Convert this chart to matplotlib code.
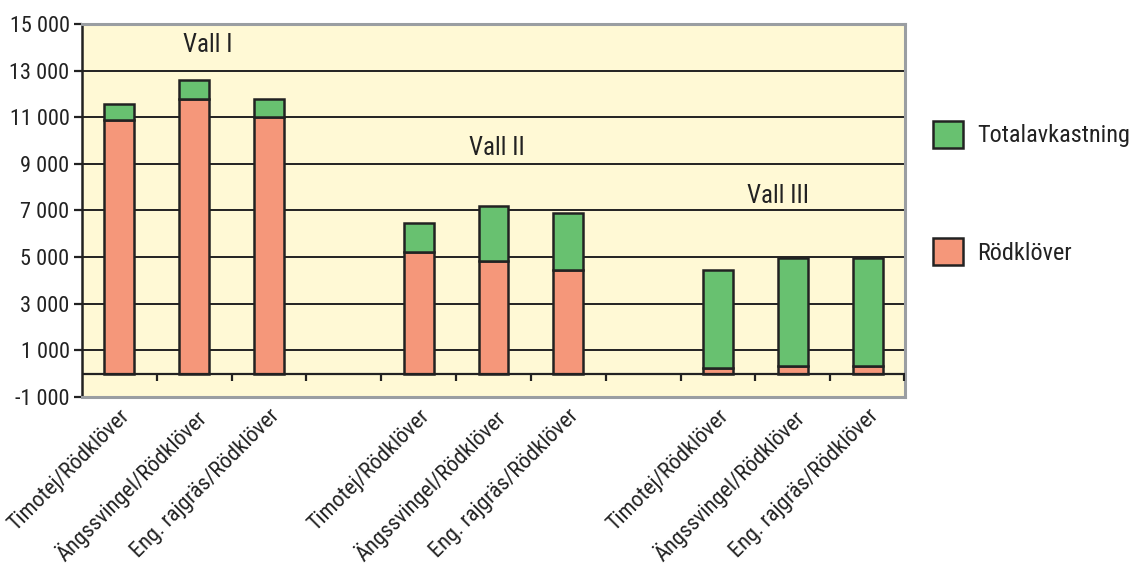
import matplotlib
matplotlib.use("Agg")
import matplotlib.pyplot as plt
from matplotlib.patches import Patch
import numpy as np

# Yield per mixture and ley year (kg ts/ha)
groups = ["Vall I", "Vall II", "Vall III"]
mixtures = ["Timotej/Rödklöver", "Ängssvingel/Rödklöver", "Eng. rajgräs/Rödklöver"]
rodklover = [
    [10900, 11800, 11000],
    [5200, 4850, 4450],
    [250, 350, 350],
]
totalavkastning = [
    [650, 800, 800],
    [1250, 2350, 2450],
    [4200, 4600, 4600],
]
yticks = list(range(-1000, 15001, 2000))

plt.rcParams["font.family"] = ["Roboto Condensed", "Archivo Narrow", "Liberation Sans", "DejaVu Sans"]

ink = "#222222"
red = "#F5977A"
green = "#68C170"
bg = "#FFF9D5"

fig = plt.figure(figsize=(11.33, 5.70), dpi=100)
ax = fig.add_axes([0.0724, 0.3035, 0.7264, 0.6545])
ax.set_facecolor(bg)

# 3 mixtures per group with one empty slot between groups
positions = []
labels = []
for g in range(len(groups)):
    for m in range(len(mixtures)):
        positions.append(g * 4 + m)
        labels.append(mixtures[m])
positions = np.array(positions)
red_vals = np.array([v for row in rodklover for v in row])
green_vals = np.array([v for row in totalavkastning for v in row])

width = 0.4
ax.bar(positions, red_vals, width, color=red, edgecolor=ink, linewidth=1.8, zorder=3)
ax.bar(positions, green_vals, width, bottom=red_vals, color=green, edgecolor=ink,
       linewidth=1.8, zorder=3)

ax.set_xlim(-0.5, 10.5)
ax.set_ylim(-1000, 15000)

# horizontal grid
for y in yticks[1:]:
    ax.axhline(y, color=ink, linewidth=1.4, zorder=1)

# zero line with category boundary ticks
ax.axhline(0, color=ink, linewidth=1.6, zorder=4)
for k in range(1, 11):
    ax.plot([k - 0.5, k - 0.5], [0, -300], color=ink, linewidth=1.6, zorder=4,
            solid_capstyle="butt")
ax.plot([10.5, 10.5], [0, -300], color=ink, linewidth=3, zorder=5, solid_capstyle="butt")

ax.set_yticks(yticks)
ax.set_yticklabels([f"{v:,}".replace(",", " ") for v in yticks], fontsize=16, color=ink)
ax.tick_params(axis="y", length=6, width=1.6, color=ink, pad=3)

ax.set_xticks(positions)
ax.set_xticklabels(labels, rotation=45, ha="right", rotation_mode="anchor", fontsize=16,
                   color=ink)
ax.tick_params(axis="x", length=0, pad=6)

ax.spines["left"].set_color(ink)
ax.spines["left"].set_linewidth(1.8)
for s in ["top", "right", "bottom"]:
    ax.spines[s].set_color("#9A9EA2")
    ax.spines[s].set_linewidth(2.2)

# group captions
ax.text(1.18, 14100, "Vall I", fontsize=18, ha="center", va="center", color=ink, zorder=6)
ax.text(5.05, 9700, "Vall II", fontsize=18, ha="center", va="center", color=ink, zorder=6)
ax.text(8.8, 7600, "Vall III", fontsize=18, ha="center", va="center", color=ink, zorder=6)

handles = [
    Patch(facecolor=green, edgecolor=ink, linewidth=1.8, label="Totalavkastning"),
    Patch(facecolor=red, edgecolor=ink, linewidth=1.8, label="Rödklöver"),
]
fig.legend(handles=handles, loc="upper left", bbox_to_anchor=(0.811, 0.814), frameon=False,
           fontsize=17.5, handlelength=1.2, handleheight=1.35, labelspacing=3.7, handletextpad=0.6,
           labelcolor=ink, borderaxespad=0.2)

fig.savefig("out.png", dpi=100)
